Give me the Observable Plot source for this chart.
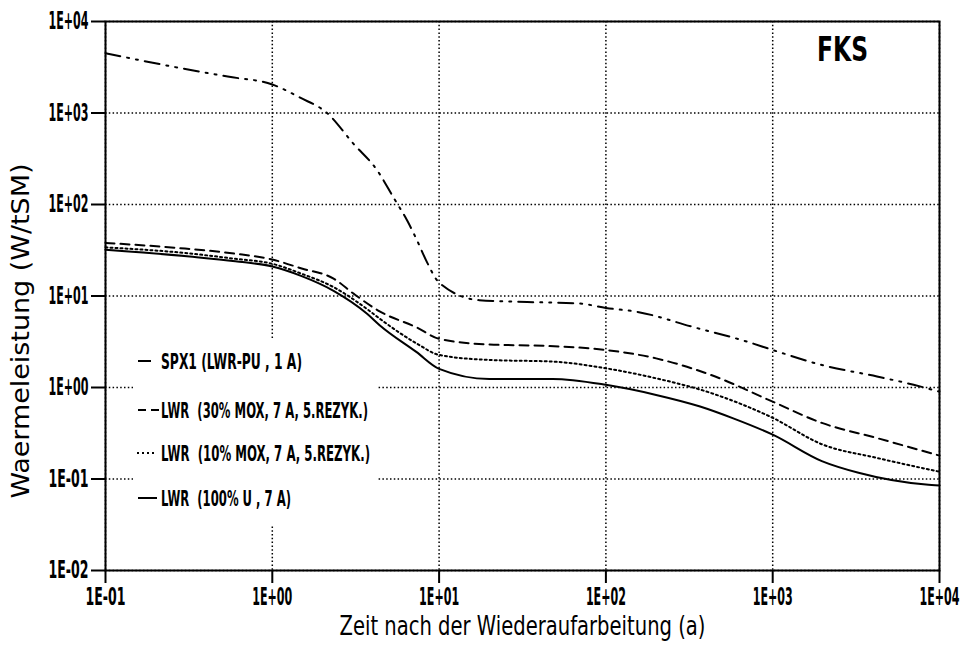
<!DOCTYPE html>
<html><head><meta charset="utf-8">
<script src="https://cdn.jsdelivr.net/npm/d3@7"></script>
<script src="https://cdn.jsdelivr.net/npm/@observablehq/plot@0.6"></script>
<style>
body{margin:0;background:#fff;}
#wrap{position:relative;width:963px;height:656px;overflow:hidden;}
#legend{position:absolute;left:0;top:0;pointer-events:none;}
</style></head><body><div id="wrap"></div>
<script>
// ---- data ----
const xTitle = "Zeit nach der Wiederaufarbeitung (a)";
const yTitle = "Waermeleistung (W/tSM)";
const tag = "FKS";
const xTicks = [0.1, 1, 10, 100, 1000, 10000];
const yTicks = [0.01, 0.1, 1, 10, 100, 1000, 10000];
const legendLabels = ["SPX1 (LWR-PU , 1 A)", "LWR  (30% MOX, 7 A, 5.REZYK.)", "LWR  (10% MOX, 7 A, 5.REZYK.)", "LWR  (100% U , 7 A)"];

const spx1T = [0.1, 0.28, 0.54, 1, 1.47, 2.13, 3.07, 4.27, 5.33, 6.46, 7.4, 8.5, 10, 17.4, 33.7, 68.6, 100, 155, 331, 706, 1000, 1970, 4220, 7000, 10000];
const spx1W = [4500, 3100, 2500, 2050, 1470, 1000, 460, 234, 119, 66, 40, 23, 14, 9.0, 8.6, 8.3, 7.4, 6.7, 4.6, 3.16, 2.57, 1.76, 1.32, 1.07, 0.9];

const mox30T = [0.1, 0.3, 0.6, 1, 1.5, 2.33, 3.07, 4.4, 7.4, 10, 20, 43, 100, 200, 427, 1000, 1970, 4220, 10000];
const mox30W = [38, 33, 29, 25, 20, 15.5, 10.6, 6.8, 4.5, 3.4, 2.95, 2.85, 2.57, 2.08, 1.37, 0.70, 0.41, 0.28, 0.18];

const mox10T = [0.1, 0.3, 0.6, 1, 1.5, 2.33, 3.7, 4.4, 7.4, 10, 20, 48, 100, 200, 427, 1000, 1970, 4220, 10000];
const mox10W = [34, 29.5, 25.5, 22.5, 17.5, 12.5, 7.2, 5.66, 3.0, 2.27, 2.0, 1.92, 1.62, 1.26, 0.87, 0.466, 0.24, 0.17, 0.12];

const uT = [0.1, 0.32, 0.6, 1, 1.5, 2.33, 3.7, 4.4, 7.3, 10, 20, 48, 100, 200, 367, 580, 1000, 1970, 3270, 8300, 10000];
const uW = [32, 27, 24, 21, 16.5, 11.4, 6.4, 4.8, 2.45, 1.6, 1.24, 1.24, 1.07, 0.83, 0.62, 0.46, 0.305, 0.157, 0.117, 0.087, 0.085];

// ---- build tables ----
const toRows = (T, W) => T.map((t, i) => ({t, w: W[i]}));
const spx1 = toRows(spx1T, spx1W);
const mox30 = toRows(mox30T, mox30W);
const mox10 = toRows(mox10T, mox10W);
const uox = toRows(uT, uW);

const fmt = d => { const e = Math.round(Math.log10(d)); return "1E" + (e < 0 ? "-" : "+") + String(Math.abs(e)).padStart(2, "0"); };
const FONT = "'Liberation Sans Narrow', 'DejaVu Sans Condensed', sans-serif";
const dashDot = "15,7,2,7,2,7";
const dashed = "9,6";
const dotted = "2,3";

const lineOpts = {x: "t", y: "w", stroke: "black", strokeWidth: 2, curve: "monotone-x"};

const plot = Plot.plot({
  width: 963, height: 656,
  marginLeft: 105, marginRight: 24, marginTop: 21, marginBottom: 86,
  style: {fontFamily: FONT, background: "white", color: "black", overflow: "visible"},
  x: {type: "log", domain: [0.1, 1e4]},
  y: {type: "log", domain: [0.01, 1e4]},
  marks: [
    Plot.gridX(xTicks, {stroke: "black", strokeOpacity: 1, strokeWidth: 1.5, strokeDasharray: "1.5,2.3"}),
    Plot.gridY(yTicks, {stroke: "black", strokeOpacity: 1, strokeWidth: 1.5, strokeDasharray: "1.5,2.3"}),
    Plot.line(spx1, {...lineOpts, strokeDasharray: dashDot}),
    Plot.line(mox30, {...lineOpts, strokeDasharray: dashed}),
    Plot.line(mox10, {...lineOpts, strokeDasharray: dotted}),
    Plot.line(uox, {...lineOpts}),
    Plot.frame({stroke: "black", strokeWidth: 2}),
    Plot.axisX({ticks: xTicks, tickFormat: () => "", tickSize: 13, strokeWidth: 2, label: null}),
    Plot.axisY({ticks: yTicks, tickFormat: () => "", tickSize: 14, strokeWidth: 2, label: null}),
    Plot.text(xTicks, {x: d => d, frameAnchor: "bottom", dy: 27, text: fmt, fontSize: 24, fontWeight: "bold", lineAnchor: "middle", textAnchor: "middle"}),
    Plot.text(yTicks, {y: d => d, frameAnchor: "left", dx: -17, text: fmt, fontSize: 24, fontWeight: "bold", lineAnchor: "middle", textAnchor: "end"}),
    Plot.text([xTitle], {frameAnchor: "bottom", dy: 56, fontSize: 26, lineAnchor: "middle", textAnchor: "middle"}),
    Plot.text([yTitle], {frameAnchor: "left", rotate: -90, dx: -85, dy: 35, fontSize: 25, lineAnchor: "middle", textAnchor: "middle"}),
    Plot.text([tag], {frameAnchor: "top-right", dx: -97, dy: 29, fontSize: 33, fontWeight: "bold", lineAnchor: "middle", textAnchor: "middle"})
  ]
});

// ---- condense texts to the reference widths ----
const tickRe = /^1E[+-]\d\d$/;
plot.querySelectorAll("text").forEach(el => {
  const s = el.textContent;
  let w = null;
  if (tickRe.test(s)) w = 40;
  else if (s === xTitle) w = 366;
  else if (s === yTitle) w = 335;
  else if (s === tag) w = 51;
  if (w) { el.setAttribute("textLength", w); el.setAttribute("lengthAdjust", "spacingAndGlyphs"); }
});

const wrap = document.getElementById("wrap");
wrap.appendChild(plot);

// ---- legend overlay ----
const lg = d3.select(wrap).append("svg").attr("id", "legend").attr("width", 963).attr("height", 656)
  .style("font-family", FONT);
lg.append("rect").attr("x", 133).attr("y", 340).attr("width", 245).attr("height", 185).attr("fill", "white");
const entryY = [361, 410, 453, 498];
const symX = [[138, 151], [138, 159], [137, 157], [138, 157]];
const symDash = [null, "8,5", "2,3", null];
const textW = [141, 207, 209, 130];
legendLabels.forEach((lab, i) => {
  const l = lg.append("line").attr("x1", symX[i][0]).attr("x2", symX[i][1])
    .attr("y1", entryY[i]).attr("y2", entryY[i]).attr("stroke", "black").attr("stroke-width", 2);
  if (symDash[i]) l.attr("stroke-dasharray", symDash[i]);
  lg.append("text").attr("x", 161).attr("y", entryY[i] + 8).attr("font-size", 22).attr("font-weight", "bold")
    .style("white-space", "pre").attr("textLength", textW[i]).attr("lengthAdjust", "spacingAndGlyphs").text(lab);
});
</script></body></html>
